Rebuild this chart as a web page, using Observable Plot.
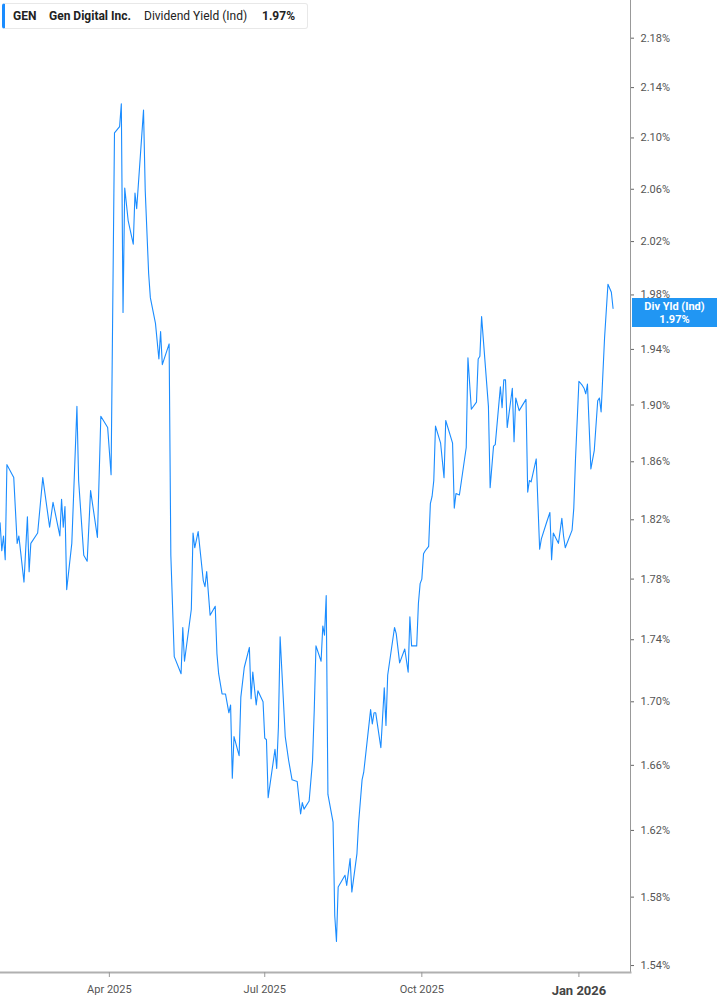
<!DOCTYPE html>
<html>
<head>
<meta charset="utf-8">
<script src="https://cdn.jsdelivr.net/npm/d3@7"></script>
<script src="https://cdn.jsdelivr.net/npm/@observablehq/plot@0.6"></script>
<style>
  html, body { margin: 0; padding: 0; background: #fff; }
  #wrap { position: relative; width: 717px; height: 1005px; font-family: Roboto, "Noto Sans", sans-serif; }
  #legend { position: absolute; left: 2px; top: 3px; width: 306px; height: 26px; background: #fff;
            border: 1px solid #e8e8e8; border-left: 3px solid #1a8cff; border-radius: 3px; box-sizing: border-box; }
  #legend span { position: absolute; top: 5px; font-size: 12px; color: #222; white-space: nowrap; }
  #legend .b { font-weight: bold; }
  #tag { position: absolute; left: 632px; width: 85px; height: 29px; background: #2196f3; color: #fff;
         font-size: 11px; font-weight: bold; text-align: center; line-height: 13px; padding-top: 2px; box-sizing: border-box; }
</style>
</head>
<body>
<div id="wrap"></div>
<script>
const dates = [
"2025-01-27","2025-01-28","2025-01-29","2025-01-30","2025-01-31","2025-02-04","2025-02-06","2025-02-07","2025-02-10","2025-02-12",
"2025-02-13","2025-02-14","2025-02-18","2025-02-21","2025-02-25","2025-02-27","2025-03-03","2025-03-04","2025-03-05","2025-03-06",
"2025-03-07","2025-03-10","2025-03-13","2025-03-14","2025-03-17","2025-03-19","2025-03-21","2025-03-25","2025-03-27","2025-03-31",
"2025-04-02","2025-04-04","2025-04-07","2025-04-08","2025-04-09","2025-04-10","2025-04-12","2025-04-15","2025-04-16","2025-04-17",
"2025-04-21","2025-04-22","2025-04-24","2025-04-25","2025-04-28","2025-04-30","2025-05-01","2025-05-02","2025-05-06","2025-05-07",
"2025-05-09","2025-05-13","2025-05-14","2025-05-15","2025-05-19","2025-05-20","2025-05-21","2025-05-23","2025-05-26","2025-05-27",
"2025-05-28","2025-05-30","2025-06-02","2025-06-03","2025-06-04","2025-06-06","2025-06-08","2025-06-10","2025-06-11","2025-06-12",
"2025-06-13","2025-06-16","2025-06-17","2025-06-19","2025-06-22","2025-06-23","2025-06-24","2025-06-26","2025-06-27","2025-06-30",
"2025-07-01","2025-07-02","2025-07-03","2025-07-07","2025-07-08","2025-07-09","2025-07-10","2025-07-13","2025-07-15","2025-07-17",
"2025-07-20","2025-07-22","2025-07-23","2025-07-24","2025-07-27","2025-07-29","2025-07-30","2025-07-31","2025-08-03","2025-08-04",
"2025-08-05","2025-08-06","2025-08-07","2025-08-10","2025-08-11","2025-08-12","2025-08-13","2025-08-17","2025-08-18","2025-08-20",
"2025-08-21","2025-08-24","2025-08-25","2025-08-27","2025-08-28","2025-09-01","2025-09-02","2025-09-03","2025-09-04","2025-09-07",
"2025-09-09","2025-09-10","2025-09-11","2025-09-15","2025-09-16","2025-09-18","2025-09-21","2025-09-23","2025-09-24","2025-09-25",
"2025-09-28","2025-09-29","2025-09-30","2025-10-01","2025-10-02","2025-10-03","2025-10-05","2025-10-06","2025-10-07","2025-10-08",
"2025-10-09","2025-10-12","2025-10-14","2025-10-15","2025-10-19","2025-10-20","2025-10-21","2025-10-23","2025-10-27","2025-10-28",
"2025-10-30","2025-11-02","2025-11-03","2025-11-04","2025-11-05","2025-11-09","2025-11-10","2025-11-12","2025-11-13","2025-11-16",
"2025-11-17","2025-11-18","2025-11-19","2025-11-20","2025-11-23","2025-11-24","2025-11-25","2025-11-27","2025-12-01","2025-12-02",
"2025-12-03","2025-12-04","2025-12-07","2025-12-09","2025-12-10","2025-12-13","2025-12-15","2025-12-16","2025-12-17","2025-12-20",
"2025-12-22","2025-12-23","2025-12-24","2025-12-28","2025-12-29","2025-12-30","2026-01-01","2026-01-03","2026-01-04","2026-01-05",
"2026-01-06","2026-01-08","2026-01-10","2026-01-12","2026-01-13","2026-01-14","2026-01-16","2026-01-18","2026-01-20","2026-01-21"
];
const yields = [
1.818,1.799,1.809,1.793,1.858,1.849,1.804,1.809,1.778,1.822,
1.785,1.804,1.811,1.849,1.815,1.832,1.809,1.834,1.815,1.829,
1.773,1.804,1.899,1.847,1.796,1.792,1.840,1.808,1.892,1.884,
1.851,2.104,2.109,2.127,1.967,2.061,2.036,2.018,2.057,2.045,
2.122,2.059,1.996,1.978,1.959,1.933,1.953,1.929,1.944,1.796,
1.729,1.718,1.748,1.726,1.760,1.811,1.801,1.812,1.779,1.775,
1.785,1.756,1.762,1.731,1.718,1.705,1.705,1.693,1.698,1.652,
1.678,1.666,1.703,1.722,1.735,1.702,1.719,1.698,1.707,1.700,
1.677,1.676,1.640,1.670,1.658,1.684,1.742,1.678,1.663,1.651,
1.650,1.630,1.637,1.633,1.638,1.663,1.695,1.736,1.726,1.749,
1.743,1.769,1.642,1.625,1.569,1.554,1.586,1.593,1.587,1.603,
1.583,1.606,1.625,1.651,1.656,1.695,1.686,1.693,1.693,1.671,
1.709,1.685,1.717,1.748,1.744,1.725,1.734,1.719,1.755,1.736,
1.736,1.764,1.777,1.780,1.797,1.799,1.802,1.831,1.836,1.847,
1.885,1.873,1.849,1.889,1.873,1.828,1.838,1.837,1.870,1.934,
1.897,1.902,1.933,1.935,1.964,1.899,1.842,1.871,1.872,1.913,
1.898,1.918,1.918,1.884,1.912,1.874,1.905,1.896,1.904,1.839,
1.847,1.846,1.862,1.800,1.807,1.818,1.825,1.793,1.811,1.804,
1.821,1.809,1.801,1.813,1.828,1.862,1.917,1.914,1.912,1.908,
1.915,1.855,1.868,1.903,1.905,1.895,1.948,1.988,1.982,1.970
];
const yTicks = [1.54,1.58,1.62,1.66,1.70,1.74,1.78,1.82,1.86,1.90,1.94,1.98,2.02,2.06,2.10,2.14,2.18];
const xTicks = ["2025-04-01","2025-07-01","2025-10-01"];
const xTickLabels = ["Apr 2025","Jul 2025","Oct 2025"];
const xYearTick = ["2026-01-01"];
const xYearLabel = ["Jan 2026"];
const xDomain = ["2025-01-27T05:45:00Z","2026-01-31T05:00:00Z"];
const yDomain = [1.536, 2.211];
const ticker = "GEN", company = "Gen Digital Inc.", metric = "Dividend Yield (Ind)", lastLabel = "Div Yld (Ind)";
const lastValue = 1.97;

const data = dates.map((d, i) => ({date: new Date(d), value: yields[i]}));
const fmt = d => d.toFixed(2) + "%";

const chart = Plot.plot({
  width: 717, height: 1005,
  marginLeft: 0, marginRight: 87, marginTop: 0, marginBottom: 33,
  style: {fontFamily: "Roboto, 'Noto Sans', sans-serif", fontSize: "11px", color: "#555", background: "#fff"},
  x: {type: "utc", domain: xDomain.map(d => new Date(d)), axis: null},
  y: {type: "log", domain: yDomain, axis: null},
  marks: [
    Plot.frame({anchor: "right", stroke: "#999", strokeWidth: 1}),
    Plot.frame({anchor: "bottom", stroke: "#b0b0b0", strokeWidth: 2}),
    Plot.axisY(yTicks, {anchor: "right", label: null, tickFormat: fmt, tickSize: 3, tickPadding: 7, stroke: "#666", fill: "#555", fontSize: 11}),
    Plot.axisX(xTicks.map(d => new Date(d)), {anchor: "bottom", label: null, tickSize: 5, tickPadding: 8, stroke: "#999", fill: "#555", fontSize: 11,
      tickFormat: (d, i) => xTickLabels[i]}),
    Plot.axisX(xYearTick.map(d => new Date(d)), {anchor: "bottom", label: null, tickSize: 5, tickPadding: 8, stroke: "#999", fill: "#444", fontSize: 13, fontWeight: "bold",
      tickFormat: (d, i) => xYearLabel[i]}),
    Plot.lineY(data, {x: "date", y: "value", stroke: "#1a8cff", strokeWidth: 1.1})
  ]
});

const wrap = document.getElementById("wrap");
wrap.appendChild(chart);

const legend = document.createElement("div");
legend.id = "legend";
legend.innerHTML = `<span class="b" style="left:8px">${ticker}</span><span class="b" style="left:44px">${company}</span><span style="left:139px">${metric}</span><span class="b" style="left:257px">${lastValue.toFixed(2)}%</span>`;
wrap.appendChild(legend);

const tag = document.createElement("div");
tag.id = "tag";
const yPos = chart.scale("y").apply(lastValue);
tag.style.top = (yPos - 10) + "px";
tag.innerHTML = `${lastLabel}<br>${lastValue.toFixed(2)}%`;
wrap.appendChild(tag);
</script>
</body>
</html>
